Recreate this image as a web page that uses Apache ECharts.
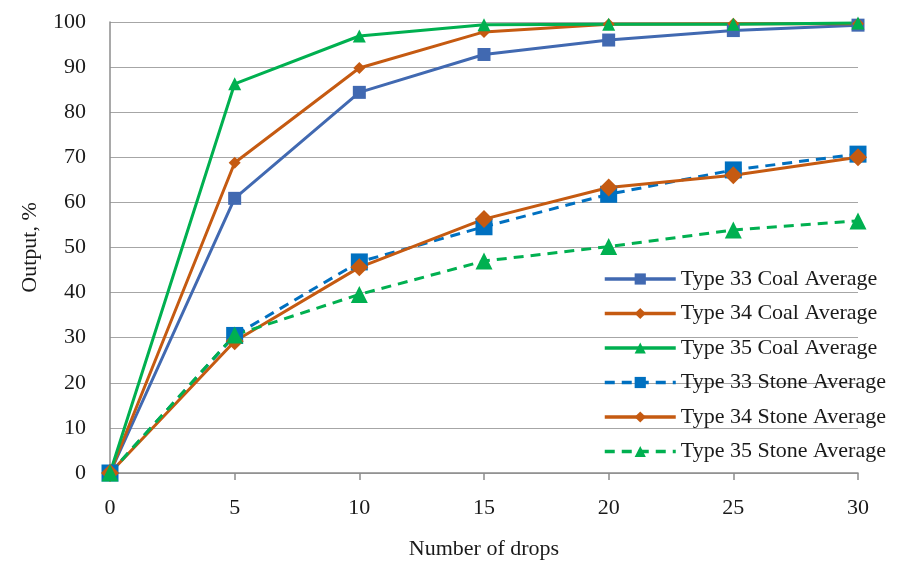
<!DOCTYPE html>
<html><head><meta charset="utf-8">
<script src="https://cdn.jsdelivr.net/npm/echarts@6/dist/echarts.min.js"></script>
<style>html,body{margin:0;padding:0;background:#fff}#c{width:897px;height:565px}</style>
</head><body><div id="c"></div>
<script>
var drops = [0, 5, 10, 15, 20, 25, 30];
var seriesNames = ['Type 33 Coal Average','Type 34 Coal Average','Type 35 Coal Average','Type 33 Stone Average','Type 34 Stone Average','Type 35 Stone Average'];
var coal33 = [0, 60.9, 84.4, 92.8, 96.0, 98.1, 99.3];
var coal34 = [0, 68.8, 89.8, 97.8, 99.5, 99.6, 99.6];
var coal35 = [0, 86.3, 96.9, 99.4, 99.5, 99.5, 99.8];
var stone33 = [0, 30.5, 46.8, 54.6, 61.8, 67.2, 70.7];
var stone34 = [0, 29.2, 45.6, 56.3, 63.3, 66.0, 70.0];
var stone35 = [0, 30.6, 39.6, 47.0, 50.2, 53.9, 55.9];
var yTicks = [0, 10, 20, 30, 40, 50, 60, 70, 80, 90, 100];

function pairs(v){ return drops.map(function(d,i){ return [d, v[i]]; }); }
var font = 'Liberation Serif';
var chart = echarts.init(document.getElementById('c'));
function mk(name, data, color, symbol, size, dashed){
  return {name:name, type:'line', data:pairs(data), symbol:symbol, symbolSize:size,
    showAllSymbol:true,
    lineStyle:{color:color, width:3, type: dashed ? [10,7] : 'solid'},
    itemStyle:{color:color}, z: 2};
}
chart.setOption({
  animation:false,
  backgroundColor:'#fff',
  grid:{left:110, right:39, top:22, bottom:90},
  legend:{
    orient:'vertical', left:598, top:263, itemWidth:71, itemHeight:14, itemGap:12.5,
    lineStyle:{width:3.5},
    textStyle:{fontFamily:font, fontSize:22, color:'#1a1a1a', lineHeight:22},
    data: seriesNames
  },
  xAxis:{type:'value', min:0, max:30, interval:5,
    name:'Number of drops', nameLocation:'middle', nameGap:65,
    nameTextStyle:{fontFamily:font, fontSize:22, color:'#1a1a1a'},
    axisLine:{lineStyle:{color:'#8c8c8c', width:1.5}},
    axisTick:{show:true, length:7, lineStyle:{color:'#8c8c8c', width:1.5}},
    axisLabel:{fontFamily:font, fontSize:22, color:'#1a1a1a', margin:24},
    splitLine:{show:false}
  },
  yAxis:{type:'value', min:0, max:100, interval:10,
    name:'Output, %', nameLocation:'middle', nameGap:69,
    nameTextStyle:{fontFamily:font, fontSize:22, color:'#1a1a1a'},
    axisLine:{show:true, lineStyle:{color:'#8c8c8c', width:1.5}},
    axisTick:{show:false},
    axisLabel:{fontFamily:font, fontSize:22, color:'#1a1a1a', margin:24},
    splitLine:{lineStyle:{color:'#a6a6a6', width:1.2}}
  },
  series:[
    mk(seriesNames[0], coal33, '#4169b1', 'rect', 13, false),
    mk(seriesNames[1], coal34, '#c55a11', 'diamond', 12, false),
    mk(seriesNames[2], coal35, '#00b050', 'triangle', 13, false),
    mk(seriesNames[3], stone33, '#0070c0', 'rect', 17, true),
    mk(seriesNames[4], stone34, '#c55a11', 'diamond', 18, false),
    mk(seriesNames[5], stone35, '#00b050', 'triangle', 17, true)
  ]
});
</script></body></html>
